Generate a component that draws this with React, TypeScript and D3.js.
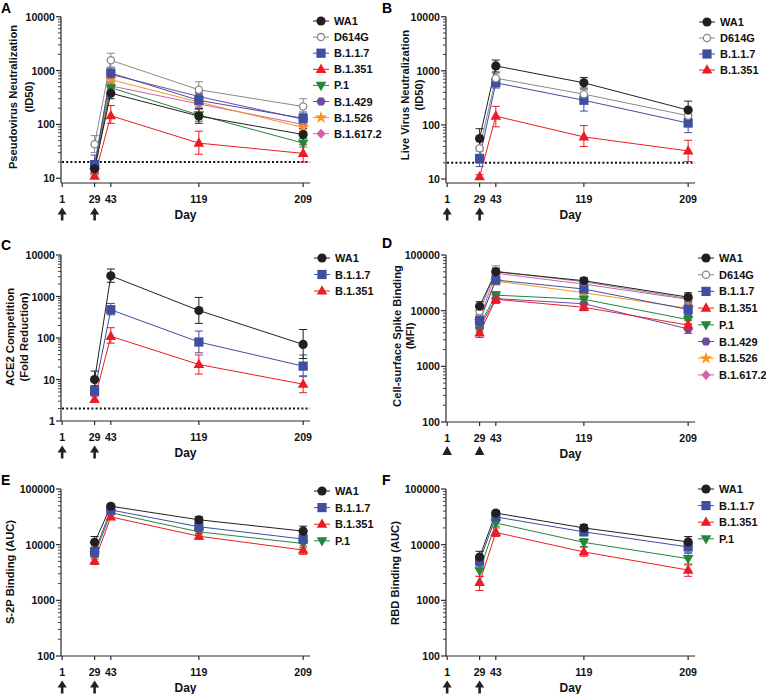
import React from "react";
import * as d3 from "d3";

// ---------------- data ----------------
const DAYS = [29, 43, 119, 209];
const X_TICKS = [1, 29, 43, 119, 209];
const DOSE_DAYS = [1, 29];

const NAMES_A = ["WA1", "D614G", "B.1.1.7", "B.1.351", "P.1", "B.1.429", "B.1.526", "B.1.617.2"];
const NAMES_B = ["WA1", "D614G", "B.1.1.7", "B.1.351"];
const NAMES_C = ["WA1", "B.1.1.7", "B.1.351"];
const NAMES_EF = ["WA1", "B.1.1.7", "B.1.351", "P.1"];

// A: Pseudovirus neutralization (ID50)
const pseudoMean: Record<string, number[]> = {
  WA1: [15, 380, 143, 65],
  D614G: [43, 1550, 440, 215],
  "B.1.1.7": [18, 900, 280, 130],
  "B.1.351": [11, 145, 45, 29],
  "P.1": [15, 480, 150, 45],
  "B.1.429": [16, 850, 330, 125],
  "B.1.526": [14, 680, 260, 88],
  "B.1.617.2": [15, 520, 240, 100],
};
const pseudoLo: Record<string, number[]> = {
  WA1: [12, 300, 105, 50],
  D614G: [30, 1150, 320, 160],
  "B.1.1.7": [13, 700, 200, 100],
  "B.1.351": [10, 105, 28, 20],
  "P.1": [12, 380, 115, 38],
  "B.1.429": [13, 700, 270, 100],
  "B.1.526": [12, 560, 210, 72],
  "B.1.617.2": [12, 430, 195, 82],
};
const pseudoHi: Record<string, number[]> = {
  WA1: [19, 480, 195, 85],
  D614G: [62, 2100, 620, 300],
  "B.1.1.7": [27, 1150, 380, 170],
  "B.1.351": [13, 225, 75, 42],
  "P.1": [19, 600, 195, 55],
  "B.1.429": [20, 1030, 400, 155],
  "B.1.526": [17, 820, 320, 108],
  "B.1.617.2": [19, 630, 295, 122],
};

// B: Live virus neutralization (ID50)
const liveMean: Record<string, number[]> = {
  WA1: [56, 1230, 600, 188],
  D614G: [37, 730, 370, 148],
  "B.1.1.7": [24, 600, 285, 108],
  "B.1.351": [11, 145, 60, 33],
};
const liveLo: Record<string, number[]> = {
  WA1: [38, 950, 480, 130],
  D614G: [28, 600, 300, 115],
  "B.1.1.7": [17, 480, 180, 72],
  "B.1.351": [10, 92, 40, 21],
};
const liveHi: Record<string, number[]> = {
  WA1: [85, 1580, 750, 275],
  D614G: [50, 900, 450, 190],
  "B.1.1.7": [33, 750, 450, 150],
  "B.1.351": [12, 220, 97, 52],
};

// C: ACE2 competition (fold reduction)
const aceMean: Record<string, number[]> = {
  WA1: [10, 3150, 460, 70],
  "B.1.1.7": [5.3, 480, 80, 21],
  "B.1.351": [3.3, 110, 23, 7.7],
};
const aceLo: Record<string, number[]> = {
  WA1: [7, 2200, 225, 32],
  "B.1.1.7": [4, 360, 44, 11.7],
  "B.1.351": [2.8, 75, 13.5, 4.8],
};
const aceHi: Record<string, number[]> = {
  WA1: [16, 4600, 950, 160],
  "B.1.1.7": [7, 680, 147, 39],
  "B.1.351": [4, 177, 39, 12.3],
};

// D: Cell-surface spike binding (MFI)
const cellMean: Record<string, number[]> = {
  WA1: [12000, 50000, 34500, 17500],
  D614G: [9800, 51000, 33000, 16500],
  "B.1.1.7": [6600, 35500, 24500, 10500],
  "B.1.351": [4000, 16000, 11500, 5500],
  "P.1": [5500, 19000, 16000, 6900],
  "B.1.429": [5000, 16500, 13300, 4700],
  "B.1.526": [6500, 34000, 21000, 11000],
  "B.1.617.2": [7200, 47000, 30000, 16000],
};
const cellLo: Record<string, number[]> = {
  WA1: [10000, 44000, 30000, 14500],
  D614G: [8200, 44000, 29000, 14000],
  "B.1.1.7": [5400, 30000, 20000, 8500],
  "B.1.351": [3300, 13500, 10000, 4500],
  "P.1": [4600, 16500, 13500, 5800],
  "B.1.429": [4200, 14000, 11000, 3900],
  "B.1.526": [5400, 29000, 18000, 9200],
  "B.1.617.2": [6000, 40000, 26000, 13500],
};
const cellHi: Record<string, number[]> = {
  WA1: [14500, 57000, 39000, 21000],
  D614G: [11800, 60000, 37500, 19500],
  "B.1.1.7": [8000, 42000, 29000, 13000],
  "B.1.351": [4800, 19000, 13200, 6700],
  "P.1": [6600, 22000, 19000, 8200],
  "B.1.429": [6000, 19500, 16000, 5700],
  "B.1.526": [7800, 40000, 24500, 13200],
  "B.1.617.2": [8600, 64000, 34500, 19500],
};

// E: S-2P binding (AUC)
const s2pMean: Record<string, number[]> = {
  WA1: [11000, 49000, 28000, 17500],
  "B.1.1.7": [7400, 42000, 21000, 12600],
  "B.1.351": [5100, 31500, 14200, 8000],
  "P.1": [6500, 37500, 17000, 10500],
};
const s2pLo: Record<string, number[]> = {
  WA1: [9000, 45000, 25000, 14500],
  "B.1.1.7": [6200, 38500, 18500, 10500],
  "B.1.351": [4400, 29000, 12500, 6700],
  "P.1": [5500, 34500, 15000, 8800],
};
const s2pHi: Record<string, number[]> = {
  WA1: [14000, 54000, 32000, 21500],
  "B.1.1.7": [8800, 46000, 24000, 15000],
  "B.1.351": [5900, 34500, 16000, 9500],
  "P.1": [7700, 41000, 19500, 12500],
};

// F: RBD binding (AUC)
const rbdMean: Record<string, number[]> = {
  WA1: [6000, 37000, 20000, 11200],
  "B.1.1.7": [5100, 31500, 17000, 9100],
  "B.1.351": [2100, 16600, 7400, 3500],
  "P.1": [3400, 24500, 11000, 5600],
};
const rbdLo: Record<string, number[]> = {
  WA1: [4800, 33000, 17500, 9000],
  "B.1.1.7": [4000, 28000, 14500, 7300],
  "B.1.351": [1500, 14000, 6200, 2700],
  "P.1": [2700, 21500, 9300, 4500],
};
const rbdHi: Record<string, number[]> = {
  WA1: [7600, 41000, 23000, 14000],
  "B.1.1.7": [6400, 35000, 19500, 11200],
  "B.1.351": [2700, 20000, 9000, 4300],
  "P.1": [4200, 27500, 12800, 6900],
};

// ---------------- styles ----------------
type Sty = { color: string; line: string; fill: string; shape: string };
const STY: Record<string, Sty> = {
  WA1: { color: "#231f20", line: "#231f20", fill: "#231f20", shape: "circle" },
  D614G: { color: "#8a8a8a", line: "#8a8a8a", fill: "#ffffff", shape: "open" },
  "B.1.1.7": { color: "#3f4ea1", line: "#3f4ea1", fill: "#3f4ea1", shape: "square" },
  "B.1.351": { color: "#ed1c24", line: "#ed1c24", fill: "#ed1c24", shape: "triUp" },
  "P.1": { color: "#23873a", line: "#23873a", fill: "#23873a", shape: "triDown" },
  "B.1.429": { color: "#6f4a9e", line: "#6f4a9e", fill: "#6f4a9e", shape: "hex" },
  "B.1.526": { color: "#f7941d", line: "#f7941d", fill: "#f7941d", shape: "star" },
  "B.1.617.2": { color: "#d15fae", line: "#d15fae", fill: "#d15fae", shape: "diamond" },
};

const FONT = "'Liberation Sans', Arial, Helvetica, sans-serif";
const AXIS = "#2b2b2b";

function Marker({ name, x, y }: { name: string; x: number; y: number }) {
  const s = STY[name];
  switch (s.shape) {
    case "circle":
      return <circle cx={x} cy={y} r={4.6} fill={s.fill} />;
    case "open":
      return <circle cx={x} cy={y} r={3.6} fill="#fff" stroke={s.color} strokeWidth={1.3} />;
    case "square":
      return <rect x={x - 4.6} y={y - 4.6} width={9.2} height={9.2} fill={s.fill} />;
    case "triUp":
      return <path d={`M${x},${y - 5.8}L${x + 5.3},${y + 3.6}L${x - 5.3},${y + 3.6}Z`} fill={s.fill} />;
    case "triDown":
      return <path d={`M${x},${y + 5.8}L${x + 5.3},${y - 3.6}L${x - 5.3},${y - 3.6}Z`} fill={s.fill} />;
    case "diamond":
      return <path d={`M${x},${y - 5}L${x + 4.6},${y}L${x},${y + 5}L${x - 4.6},${y}Z`} fill={s.fill} />;
    case "star": {
      const p = d3.symbol().type(d3.symbolStar).size(48)() as string;
      return <path d={p} transform={`translate(${x},${y})`} fill={s.fill} />;
    }
    case "hex": {
      const pts = d3.range(6).map((i) => {
        const a = (Math.PI / 3) * i;
        return `${x + 4.7 * Math.cos(a)},${y + 4.7 * Math.sin(a)}`;
      });
      return <polygon points={pts.join(" ")} fill={s.fill} />;
    }
  }
  return null;
}

type PanelCfg = {
  letter: string;
  lx: number;
  ly: number;
  axisX: number;
  yMin: number;
  yMax: number;
  yBot: number;
  yTop: number;
  axisY: number;
  titles: { text: string; x: number }[];
  titleCY: number;
  names: string[];
  mean: Record<string, number[]>;
  lo: Record<string, number[]>;
  hi: Record<string, number[]>;
  legendX: number;
  legendY: number;
  legendDy: number;
  dotted?: number;
  doseStyle: "arrow" | "tri";
};

function Panel({ c }: { c: PanelCfg }) {
  const x = d3.scaleLinear().domain([0, 215]).range([c.axisX, c.axisX + 249.1]);
  const y = d3.scaleLog().domain([c.yMin, c.yMax]).range([c.yBot, c.yTop]);
  const xEnd = x(215);
  const decades: number[] = [];
  for (let v = c.yMin; v <= c.yMax * 1.0001; v *= 10) decades.push(v);
  const minors: number[] = [];
  decades.slice(0, -1).forEach((d) => {
    for (let k = 2; k <= 9; k++) minors.push(d * k);
  });
  const line = d3
    .line<[number, number]>()
    .x((d) => x(d[0]))
    .y((d) => y(d[1]));
  const order = [...c.names].reverse();
  return (
    <g>
      <text x={c.lx} y={c.ly} fontSize={14} fontWeight="bold" fontFamily={FONT}>
        {c.letter}
      </text>
      {/* y axis */}
      <line x1={c.axisX} x2={c.axisX} y1={c.yTop} y2={c.axisY} stroke={AXIS} strokeWidth={1.2} />
      {decades.map((d) => (
        <g key={d}>
          <line x1={c.axisX - 5} x2={c.axisX} y1={y(d)} y2={y(d)} stroke={AXIS} strokeWidth={1.2} />
          <text
            x={c.axisX - 6}
            y={y(d)}
            textAnchor="end"
            dominantBaseline="central"
            fontSize={10.6}
            fontWeight="bold"
            fontFamily={FONT}
            fill="#111"
          >
            {d3.format("d")(d)}
          </text>
        </g>
      ))}
      {minors.map((d) => (
        <line key={d} x1={c.axisX - 3} x2={c.axisX} y1={y(d)} y2={y(d)} stroke={AXIS} strokeWidth={0.9} />
      ))}
      {/* x axis */}
      <line x1={c.axisX} x2={xEnd} y1={c.axisY} y2={c.axisY} stroke={AXIS} strokeWidth={1.2} />
      {X_TICKS.map((t) => (
        <g key={t}>
          <line x1={x(t)} x2={x(t)} y1={c.axisY} y2={c.axisY + 4} stroke={AXIS} strokeWidth={1.2} />
          <text
            x={x(t)}
            y={c.axisY + 16}
            textAnchor="middle"
            dominantBaseline="central"
            fontSize={10.6}
            fontWeight="bold"
            fontFamily={FONT}
            fill="#111"
          >
            {t}
          </text>
        </g>
      ))}
      <text
        x={(c.axisX + xEnd) / 2}
        y={c.axisY + 31.5}
        textAnchor="middle"
        dominantBaseline="central"
        fontSize={12}
        fontWeight="bold"
        fontFamily={FONT}
        fill="#111"
      >
        Day
      </text>
      {DOSE_DAYS.map((d) =>
        c.doseStyle === "arrow" ? (
          <g key={d}>
            <line x1={x(d)} x2={x(d)} y1={c.axisY + 29} y2={c.axisY + 37.5} stroke="#222" strokeWidth={2.6} />
            <path
              d={`M${x(d)},${c.axisY + 24.5}L${x(d) + 4.6},${c.axisY + 31.5}L${x(d) - 4.6},${c.axisY + 31.5}Z`}
              fill="#222"
            />
          </g>
        ) : (
          <path
            key={d}
            d={`M${x(d)},${c.axisY + 24}L${x(d) + 4.8},${c.axisY + 33}L${x(d) - 4.8},${c.axisY + 33}Z`}
            fill="#222"
          />
        )
      )}
      {/* y title */}
      {c.titles.map((t, i) => (
        <text
          key={i}
          transform={`translate(${t.x},${c.titleCY}) rotate(-90)`}
          textAnchor="middle"
          dominantBaseline="central"
          fontSize={11.2}
          fontWeight="bold"
          fontFamily={FONT}
          fill="#111"
        >
          {t.text}
        </text>
      ))}
      {/* dotted limit */}
      {c.dotted !== undefined && (
        <line
          x1={c.axisX + 1}
          x2={xEnd}
          y1={y(c.dotted)}
          y2={y(c.dotted)}
          stroke="#111"
          strokeWidth={2}
          strokeDasharray="2,2.2"
        />
      )}
      {/* series */}
      {order.map((n) => {
        const s = STY[n];
        const pts = DAYS.map((d, i) => [d, c.mean[n][i]] as [number, number]);
        return (
          <g key={n}>
            {DAYS.map((d, i) => (
              <g key={d} stroke={s.color} strokeWidth={1}>
                <line x1={x(d)} x2={x(d)} y1={y(c.lo[n][i])} y2={y(c.hi[n][i])} />
                <line x1={x(d) - 4} x2={x(d) + 4} y1={y(c.lo[n][i])} y2={y(c.lo[n][i])} />
                <line x1={x(d) - 4} x2={x(d) + 4} y1={y(c.hi[n][i])} y2={y(c.hi[n][i])} />
              </g>
            ))}
            <path d={line(pts) as string} fill="none" stroke={s.line} strokeWidth={1} />
          </g>
        );
      })}
      {order.map((n) => (
        <g key={n}>
          {DAYS.map((d, i) => (
            <Marker key={d} name={n} x={x(d)} y={y(c.mean[n][i])} />
          ))}
        </g>
      ))}
      {/* legend */}
      {c.names.map((n, i) => {
        const ly = c.legendY + i * c.legendDy;
        return (
          <g key={n}>
            <line x1={c.legendX - 8} x2={c.legendX + 8} y1={ly} y2={ly} stroke={STY[n].line} strokeWidth={1} />
            <Marker name={n} x={c.legendX} y={ly} />
            <text
              x={c.legendX + 13}
              y={ly}
              dominantBaseline="central"
              fontSize={11}
              fontWeight="bold"
              fontFamily={FONT}
              fill="#111"
            >
              {n}
            </text>
          </g>
        );
      })}
    </g>
  );
}

const PANELS: PanelCfg[] = [
  {
    letter: "A", lx: 1, ly: 13, axisX: 61, yMin: 10, yMax: 10000, yBot: 178.3, yTop: 16.7, axisY: 183,
    titles: [{ text: "Pseudovirus Neutralization", x: 13 }, { text: "(ID50)", x: 29 }], titleCY: 97,
    names: NAMES_A, mean: pseudoMean, lo: pseudoLo, hi: pseudoHi,
    legendX: 321, legendY: 21, legendDy: 16.1, dotted: 20, doseStyle: "arrow",
  },
  {
    letter: "B", lx: 382, ly: 13, axisX: 446, yMin: 10, yMax: 10000, yBot: 179, yTop: 16.7, axisY: 183,
    titles: [{ text: "Live Virus Neutralization", x: 405 }, { text: "(ID50)", x: 419 }], titleCY: 95,
    names: NAMES_B, mean: liveMean, lo: liveLo, hi: liveHi,
    legendX: 707, legendY: 22, legendDy: 16, dotted: 20, doseStyle: "arrow",
  },
  {
    letter: "C", lx: 1, ly: 250, axisX: 61, yMin: 1, yMax: 10000, yBot: 421, yTop: 255, axisY: 421,
    titles: [{ text: "ACE2 Competition", x: 10 }, { text: "(Fold Reduction)", x: 24 }], titleCY: 337,
    names: NAMES_C, mean: aceMean, lo: aceLo, hi: aceHi,
    legendX: 322, legendY: 258, legendDy: 16.5, dotted: 2, doseStyle: "arrow",
  },
  {
    letter: "D", lx: 382, ly: 248, axisX: 446, yMin: 100, yMax: 100000, yBot: 422, yTop: 255, axisY: 422,
    titles: [{ text: "Cell-surface Spike Binding", x: 397 }, { text: "(MFI)", x: 410 }], titleCY: 336,
    names: NAMES_A, mean: cellMean, lo: cellLo, hi: cellHi,
    legendX: 706, legendY: 258, legendDy: 16.7, doseStyle: "tri",
  },
  {
    letter: "E", lx: 1, ly: 485, axisX: 61, yMin: 100, yMax: 100000, yBot: 656, yTop: 489, axisY: 656,
    titles: [{ text: "S-2P Binding (AUC)", x: 10 }], titleCY: 572,
    names: NAMES_EF, mean: s2pMean, lo: s2pLo, hi: s2pHi,
    legendX: 322, legendY: 491, legendDy: 16.6, doseStyle: "arrow",
  },
  {
    letter: "F", lx: 382, ly: 485, axisX: 446, yMin: 100, yMax: 100000, yBot: 656, yTop: 489, axisY: 656,
    titles: [{ text: "RBD Binding (AUC)", x: 395 }], titleCY: 573,
    names: NAMES_EF, mean: rbdMean, lo: rbdLo, hi: rbdHi,
    legendX: 706, legendY: 489, legendDy: 16.6, doseStyle: "arrow",
  },
];

export default function App() {
  return (
    <svg
      width={766}
      height={694}
      viewBox="0 0 766 694"
      style={{ position: "absolute", left: 0, top: 0, background: "#fff" }}
    >
      <rect width={766} height={694} fill="#fff" />
      {PANELS.map((p) => (
        <Panel key={p.letter} c={p} />
      ))}
    </svg>
  );
}
